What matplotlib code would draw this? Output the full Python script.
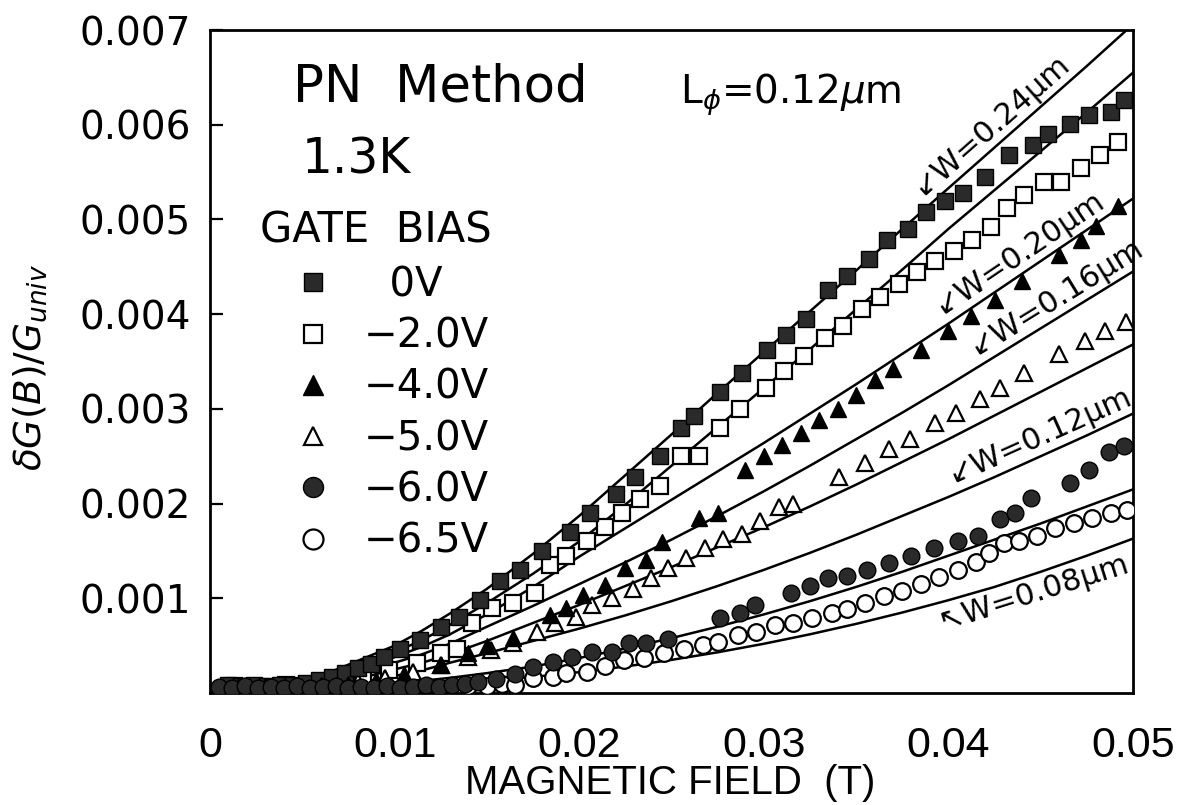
import numpy as np
import matplotlib
matplotlib.use("Agg")
import matplotlib.pyplot as plt
from matplotlib import transforms

# ---- data ----
# gate bias 0V (filled squares)
sq_fill_x = [0.0010, 0.0017, 0.0024, 0.0031, 0.0038, 0.0045, 0.0052, 0.0059, 0.0066, 0.0073,
             0.0080, 0.0087, 0.0094, 0.0103, 0.0114, 0.0125, 0.0135, 0.0146, 0.0157, 0.0168,
             0.0180, 0.0195, 0.0206, 0.0220, 0.0230, 0.0244, 0.0255, 0.0262, 0.0276, 0.0288,
             0.0302, 0.0312, 0.0323, 0.0335, 0.0345, 0.0357, 0.0367, 0.0378, 0.0388, 0.0398,
             0.0408, 0.0420, 0.0433, 0.0446, 0.0454, 0.0466, 0.0476, 0.0488, 0.0495]
sq_fill_y = [0.00008, 0.00007, 0.00008, 0.00007, 0.00008, 0.00009, 0.00011, 0.00014, 0.00017, 0.00021,
             0.00026, 0.00031, 0.00038, 0.00046, 0.00056, 0.00070, 0.00080, 0.00098, 0.00118, 0.00130,
             0.00150, 0.00170, 0.00190, 0.00210, 0.00228, 0.00250, 0.00280, 0.00292, 0.00318, 0.00338,
             0.00362, 0.00378, 0.00395, 0.00425, 0.00440, 0.00458, 0.00478, 0.00490, 0.00508, 0.00520,
             0.00528, 0.00545, 0.00568, 0.00579, 0.00590, 0.00601, 0.00610, 0.00613, 0.00626]

# -2.0V (open squares)
sq_open_x = [0.0013, 0.0027, 0.0041, 0.0055, 0.0069, 0.0083, 0.0097, 0.0112, 0.0125, 0.0134,
             0.0142, 0.0153, 0.0164, 0.0176, 0.0184, 0.0193, 0.0204, 0.0214, 0.0223, 0.0233,
             0.0244, 0.0255, 0.0265, 0.0276, 0.0287, 0.0301, 0.0311, 0.0322, 0.0333, 0.0343,
             0.0353, 0.0363, 0.0373, 0.0383, 0.0393, 0.0403, 0.0413, 0.0423, 0.0432, 0.0441,
             0.0452, 0.0461, 0.0472, 0.0482, 0.0492]
sq_open_y = [0.00007, 0.00006, 0.00008, 0.00009, 0.00012, 0.00017, 0.00024, 0.00032, 0.00042, 0.00047,
             0.00074, 0.00090, 0.00095, 0.00106, 0.00135, 0.00145, 0.00161, 0.00175, 0.00190, 0.00205,
             0.00219, 0.00250, 0.00250, 0.00280, 0.00300, 0.00322, 0.00340, 0.00356, 0.00375, 0.00388,
             0.00405, 0.00418, 0.00432, 0.00445, 0.00456, 0.00467, 0.00478, 0.00492, 0.00512, 0.00526,
             0.00540, 0.00540, 0.00554, 0.00568, 0.00582]

# -4.0V (filled triangles)
tri_fill_x = [0.0015, 0.0030, 0.0045, 0.0060, 0.0075, 0.0090, 0.0105, 0.0125, 0.0140, 0.0150,
              0.0164, 0.0184, 0.0193, 0.0202, 0.0214, 0.0225, 0.0236, 0.0245, 0.0265, 0.0275,
              0.0290, 0.0300, 0.0310, 0.0320, 0.0330, 0.0340, 0.0350, 0.0360, 0.0370, 0.0385,
              0.0400, 0.0412, 0.0425, 0.0440, 0.0460, 0.0472, 0.0480, 0.0492]
tri_fill_y = [0.00006, 0.00007, 0.00006, 0.00008, 0.00010, 0.00014, 0.00020, 0.00030, 0.00042, 0.00050,
              0.00058, 0.00082, 0.00090, 0.00103, 0.00114, 0.00132, 0.00140, 0.00159, 0.00185, 0.00190,
              0.00235, 0.00250, 0.00262, 0.00275, 0.00288, 0.00300, 0.00315, 0.00330, 0.00342, 0.00362,
              0.00382, 0.00398, 0.00415, 0.00435, 0.00462, 0.00478, 0.00493, 0.00514]

# -5.0V (open triangles)
tri_open_x = [0.0020, 0.0035, 0.0050, 0.0065, 0.0080, 0.0095, 0.0110, 0.0125, 0.0140, 0.0152,
              0.0164, 0.0177, 0.0187, 0.0198, 0.0207, 0.0218, 0.0229, 0.0239, 0.0248, 0.0258,
              0.0268, 0.0278, 0.0288, 0.0298, 0.0308, 0.0316, 0.0341, 0.0355, 0.0368, 0.0379,
              0.0393, 0.0404, 0.0417, 0.0428, 0.0441, 0.0460, 0.0474, 0.0485, 0.0496]
tri_open_y = [0.00006, 0.00007, 0.00007, 0.00009, 0.00012, 0.00016, 0.00022, 0.00030, 0.00038, 0.00045,
              0.00053, 0.00064, 0.00074, 0.00080, 0.00093, 0.00100, 0.00110, 0.00121, 0.00132, 0.00143,
              0.00153, 0.00163, 0.00168, 0.00182, 0.00196, 0.00200, 0.00228, 0.00243, 0.00258, 0.00268,
              0.00285, 0.00296, 0.00310, 0.00322, 0.00338, 0.00358, 0.00372, 0.00382, 0.00392]

# -6.0V (filled circles)
circ_fill_x = [0.0005, 0.0012, 0.0019, 0.0026, 0.0033, 0.0040, 0.0047, 0.0054, 0.0061, 0.0068,
               0.0075, 0.0082, 0.0089, 0.0096, 0.0103, 0.0110, 0.0117, 0.0124, 0.0131, 0.0138,
               0.0145, 0.0155, 0.0165, 0.0175, 0.0186, 0.0196, 0.0207, 0.0218, 0.0227, 0.0236,
               0.0248, 0.0276, 0.0287, 0.0295, 0.0315, 0.0325, 0.0335, 0.0345, 0.0356, 0.0368,
               0.0380, 0.0392, 0.0405, 0.0416, 0.0428, 0.0436, 0.0445, 0.0466, 0.0476, 0.0487,
               0.0495]
circ_fill_y = [0.00006, 0.00005, 0.00007, 0.00005, 0.00006, 0.00005, 0.00007, 0.00005, 0.00006, 0.00007,
               0.00005, 0.00006, 0.00005, 0.00007, 0.00005, 0.00006, 0.00008, 0.00006, 0.00008, 0.00010,
               0.00012, 0.00015, 0.00020, 0.00027, 0.00033, 0.00038, 0.00043, 0.00043, 0.00053, 0.00053,
               0.00057, 0.00079, 0.00085, 0.00093, 0.00106, 0.00113, 0.00121, 0.00124, 0.00130, 0.00137,
               0.00145, 0.00153, 0.00160, 0.00166, 0.00184, 0.00190, 0.00206, 0.00222, 0.00235, 0.00254,
               0.00261]

# -6.5V (open circles)
circ_open_x = [0.0140, 0.0150, 0.0158, 0.0165, 0.0175, 0.0186, 0.0193, 0.0204, 0.0214, 0.0224,
               0.0235, 0.0246, 0.0257, 0.0267, 0.0275, 0.0286, 0.0296, 0.0306, 0.0316, 0.0326,
               0.0337, 0.0345, 0.0355, 0.0365, 0.0375, 0.0385, 0.0395, 0.0405, 0.0415, 0.0422,
               0.0430, 0.0438, 0.0448, 0.0458, 0.0468, 0.0478, 0.0488, 0.0497]
circ_open_y = [0.00007, 0.00007, 0.00010, 0.00008, 0.00016, 0.00017, 0.00021, 0.00022, 0.00029, 0.00035,
               0.00037, 0.00042, 0.00047, 0.00051, 0.00054, 0.00061, 0.00064, 0.00072, 0.00074, 0.00079,
               0.00085, 0.00089, 0.00095, 0.00102, 0.00108, 0.00115, 0.00122, 0.00130, 0.00138, 0.00148,
               0.00158, 0.00161, 0.00166, 0.00174, 0.00180, 0.00185, 0.00190, 0.00193]

# theory curves (top to bottom), common field grid
fit_x = [0.004, 0.005, 0.006, 0.007, 0.008, 0.009, 0.010, 0.0115, 0.013, 0.015, 0.0175, 0.020,
         0.0225, 0.025, 0.0275, 0.030, 0.0325, 0.035, 0.0375, 0.040, 0.0425, 0.045, 0.0475, 0.050]
fit_w024 = [0.00007, 0.00012, 0.00018, 0.00026, 0.00034, 0.00042, 0.00050, 0.00066, 0.00084, 0.00110, 0.00147, 0.00187,
            0.00230, 0.00273, 0.00317, 0.00360, 0.00403, 0.00446, 0.00490, 0.00533, 0.00576, 0.00619, 0.00662, 0.00706]
fit_b = [0.00006, 0.00010, 0.00014, 0.00020, 0.00027, 0.00035, 0.00043, 0.00056, 0.00072, 0.00095, 0.00126, 0.00160,
         0.00199, 0.00240, 0.00281, 0.00322, 0.00363, 0.00405, 0.00447, 0.00490, 0.00531, 0.00572, 0.00613, 0.00655]
fit_w020 = [0.00005, 0.00008, 0.00012, 0.00017, 0.00023, 0.00030, 0.00038, 0.00049, 0.00062, 0.00083, 0.00112, 0.00144,
            0.00174, 0.00204, 0.00234, 0.00264, 0.00295, 0.00326, 0.00358, 0.00390, 0.00423, 0.00456, 0.00489, 0.00522]
fit_w016 = [0.00004, 0.00007, 0.00010, 0.00014, 0.00019, 0.00025, 0.00032, 0.00041, 0.00052, 0.00070, 0.00092, 0.00115,
            0.00138, 0.00162, 0.00187, 0.00213, 0.00240, 0.00268, 0.00296, 0.00325, 0.00355, 0.00385, 0.00415, 0.00445]
fit_e = [0.00004, 0.00006, 0.00008, 0.00011, 0.00015, 0.00020, 0.00025, 0.00032, 0.00041, 0.00055, 0.00074, 0.00093,
         0.00113, 0.00133, 0.00154, 0.00175, 0.00197, 0.00220, 0.00244, 0.00268, 0.00293, 0.00318, 0.00343, 0.00368]
fit_w012 = [0.00003, 0.00004, 0.00006, 0.00008, 0.00011, 0.00014, 0.00018, 0.00024, 0.00032, 0.00042, 0.00055, 0.00068,
            0.00082, 0.00097, 0.00113, 0.00130, 0.00148, 0.00167, 0.00187, 0.00207, 0.00228, 0.00250, 0.00272, 0.00295]
fit_g = [0.00003, 0.00004, 0.00005, 0.00006, 0.00007, 0.00008, 0.00010, 0.00013, 0.00016, 0.00021, 0.00028, 0.00037,
         0.00047, 0.00058, 0.00070, 0.00083, 0.00097, 0.00112, 0.00128, 0.00145, 0.00162, 0.00179, 0.00197, 0.00215]
fit_w008 = [0.00003, 0.00003, 0.00004, 0.00004, 0.00005, 0.00006, 0.00007, 0.00009, 0.00011, 0.00013, 0.00017, 0.00022,
            0.00028, 0.00035, 0.00043, 0.00052, 0.00062, 0.00073, 0.00085, 0.00098, 0.00112, 0.00128, 0.00145, 0.00163]

x_ticks = [0, 0.01, 0.02, 0.03, 0.04, 0.05]
x_tick_labels = ['0', '0.01', '0.02', '0.03', '0.04', '0.05']
y_ticks = [0.001, 0.002, 0.003, 0.004, 0.005, 0.006, 0.007]
y_tick_labels = ['0.001', '0.002', '0.003', '0.004', '0.005', '0.006', '0.007']

plt.rcParams['font.family'] = ['DejaVu Sans']

fig = plt.figure(figsize=(11.86, 8.05), dpi=100)
ax = fig.add_axes([0.1771, 0.1391, 0.7782, 0.8236])
ax.set_xlim(0, 0.05)
ax.set_ylim(0, 0.007)

for s in ax.spines.values():
    s.set_linewidth(2.0)

# theory curves
for fy in [fit_w024, fit_b, fit_w020, fit_w016, fit_e, fit_w012, fit_g, fit_w008]:
    ax.plot(fit_x, fy, color='black', lw=1.8, zorder=2)

# data
dark = '#2a2a2a'
h1, = ax.plot(sq_fill_x, sq_fill_y, 's', ms=11, color=dark, mec='black', mew=1, label='  0V', zorder=4)
h2, = ax.plot(sq_open_x, sq_open_y, 's', ms=11, mfc='white', mec='black', mew=1.6, label='−2.0V', zorder=3)
h3, = ax.plot(tri_fill_x, tri_fill_y, '^', ms=12, color='black', label='−4.0V', zorder=4)
h4, = ax.plot(tri_open_x, tri_open_y, '^', ms=11, mfc='white', mec='black', mew=1.6, label='−5.0V', zorder=3)
h5, = ax.plot(circ_fill_x, circ_fill_y, 'o', ms=12, color=dark, mec='black', mew=1, label='−6.0V', zorder=4)
h6, = ax.plot(circ_open_x, circ_open_y, 'o', ms=12, mfc='white', mec='black', mew=1.6, label='−6.5V', zorder=3)

# ticks
ax.set_xticks(x_ticks)
ax.set_xticklabels(x_tick_labels, fontsize=31, family='Liberation Sans')
ax.set_yticks(y_ticks)
ax.set_yticklabels(y_tick_labels, fontsize=28)
ax.tick_params(axis='x', length=0, pad=24)
ax.tick_params(axis='y', direction='in', length=9, width=1.6, pad=14)
ax.tick_params(top=False, right=False)

fig.text(670 / 1186, 1 - 783 / 805, 'MAGNETIC FIELD  (T)', ha='center', va='center',
         fontsize=29, family='Liberation Sans')
fig.text(30 / 1186, 1 - 367 / 805, r'$\delta G(B)/G_{univ}$', rotation=90,
         ha='center', va='center', fontsize=27)

# annotations
ax.text(0.090, 0.914, 'PN  Method', transform=ax.transAxes, fontsize=37, va='center')
ax.text(0.0997, 0.804, '1.3K', transform=ax.transAxes, fontsize=35, va='center')
ax.text(0.054, 0.698, 'GATE  BIAS', transform=ax.transAxes, fontsize=30, va='center')
ax.text(0.509, 0.902, r'L$_{\phi}$=0.12$\mu$m', transform=ax.transAxes, fontsize=28, va='center')

leg = ax.legend(handles=[h1, h2, h3, h4, h5, h6], loc='upper left', bbox_to_anchor=(0.09, 0.645),
                frameon=False, fontsize=29, handlelength=1.0, handletextpad=0.75,
                labelspacing=0.28, borderpad=0, borderaxespad=0, markerscale=1.2)


def curve_label(fx, fy, x0, text, above=True, span=0.008):
    # text follows the curve: angle taken from the curve's chord in display space
    y0 = np.interp(x0, fx, fy)
    x1 = min(x0 + span, fx[-1])
    y1 = np.interp(x1, fx, fy)
    p0 = ax.transData.transform((x0, y0))
    p1 = ax.transData.transform((x1, y1))
    ang = np.degrees(np.arctan2(p1[1] - p0[1], p1[0] - p0[0]))
    off = 3 if above else -3
    tr = transforms.offset_copy(ax.transData, fig=fig, x=-np.sin(np.radians(ang)) * off,
                                y=np.cos(np.radians(ang)) * off, units='points')
    ax.text(x0, y0, text, transform=tr, rotation=ang, rotation_mode='anchor',
            ha='left', va='bottom' if above else 'top', fontsize=22)


curve_label(fit_x, fit_w024, 0.0390, '↙W=0.24μm')
curve_label(fit_x, fit_w020, 0.0400, '↙W=0.20μm')
curve_label(fit_x, fit_w016, 0.0418, '↙W=0.16μm')
curve_label(fit_x, fit_w012, 0.0405, '↙W=0.12μm')
curve_label(fit_x, fit_w008, 0.0392, '↖W=0.08μm', above=False)

fig.savefig('out.png', dpi=100)
